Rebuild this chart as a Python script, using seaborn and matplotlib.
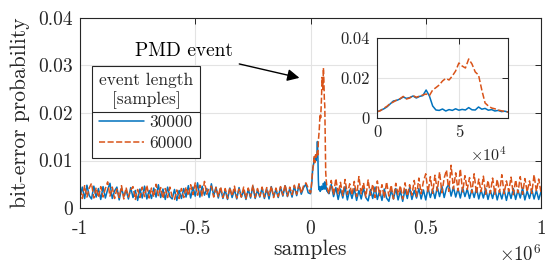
import matplotlib as mpl

mpl.use('Agg')
import numpy as np
import pandas as pd
import matplotlib.pyplot as plt
import seaborn as sns
from matplotlib.lines import Line2D

# sample positions (grid) of the three stretches
x_left = np.arange(-1_000_000, 0, 10_000)
x_event = np.arange(0, 80_001, 2_000)
x_right = np.arange(90_000, 1_000_001, 10_000)

# bit-error probability, in units of 1e-3
ber30k_left = [2.2, 4.4, 2.0, 4.8, 2.6, 1.9, 4.6, 2.3, 4.1, 1.8,
               4.5, 2.1, 3.9, 5.2, 2.0, 3.6, 4.4, 1.7, 4.2, 2.4,
               3.8, 1.9, 4.3, 2.2, 3.7, 1.6, 4.0, 2.1, 4.6, 1.9,
               3.7, 2.0, 4.2, 2.3, 4.9, 2.2, 4.0, 1.8, 4.4, 2.4,
               1.9, 3.9, 1.6, 3.7, 2.0, 4.1, 2.3, 4.7, 2.1, 4.4,
               2.5, 5.3, 2.3, 4.6, 2.7, 4.1, 2.2, 5.1, 2.6, 4.4,
               2.1, 4.1, 2.0, 3.8, 1.8, 4.2, 2.2, 3.9, 1.9, 4.3,
               2.3, 3.7, 1.8, 4.0, 2.1, 4.6, 2.0, 3.8, 2.3, 4.2,
               2.0, 4.0, 1.9, 4.5, 2.4, 3.9, 2.2, 4.4, 2.5, 4.7,
               2.4, 4.1, 2.3, 4.6, 2.6, 4.8, 2.9, 4.3, 5.0, 3.2]
ber60k_left = [4.0, 2.0, 4.7, 2.3, 4.2, 5.2, 2.1, 4.3, 2.2, 4.5,
               2.3, 4.1, 5.5, 2.5, 4.4, 2.0, 4.0, 2.2, 4.7, 1.9,
               4.3, 2.3, 3.8, 4.5, 1.8, 3.9, 2.2, 4.4, 2.4, 4.8,
               2.1, 4.2, 2.3, 5.0, 2.6, 4.3, 2.0, 4.1, 2.2, 4.4,
               2.3, 1.8, 3.8, 2.0, 4.1, 2.2, 4.4, 2.6, 4.9, 2.8,
               5.3, 2.7, 4.8, 2.4, 5.6, 2.9, 4.2, 4.6, 2.3, 4.3,
               2.4, 4.5, 2.2, 4.1, 2.0, 4.3, 2.5, 4.6, 2.1, 4.0,
               2.3, 4.4, 2.0, 4.2, 2.4, 4.8, 2.2, 4.1, 2.5, 4.4,
               2.3, 4.3, 2.6, 4.6, 2.2, 4.2, 2.4, 4.5, 2.7, 4.9,
               2.5, 4.4, 2.8, 4.8, 2.9, 5.1, 3.1, 4.7, 5.3, 4.2]

ber30k_event = [3.0, 3.8, 4.5, 5.5, 7.0, 8.5, 8.8, 9.5, 10.5, 9.8,
                10.2, 11.0, 10.0, 10.8, 11.2, 14.0, 11.0, 6.0, 4.0, 3.8,
                4.5, 3.5, 4.2, 3.8, 4.6, 3.9, 4.3, 4.0, 5.2, 4.1,
                4.0, 5.5, 4.4, 4.8, 3.9, 4.2, 3.5, 3.8, 3.2, 3.4,
                3.0]
ber60k_event = [3.2, 3.6, 4.8, 5.8, 7.2, 8.0, 9.0, 9.6, 10.8, 9.5,
                10.0, 11.2, 10.4, 10.9, 11.5, 12.0, 11.2, 14.0, 15.2, 16.5,
                18.5, 19.8, 19.0, 21.0, 23.5, 27.5, 26.0, 25.0, 29.5, 27.0,
                23.0, 21.5, 14.0, 7.5, 6.0, 5.0, 4.6, 4.0, 3.6, 3.3,
                3.0]

ber30k_right = [5.0, 2.4, 4.3, 1.8, 4.0, 2.1, 4.5, 1.7, 3.8, 2.0,
                4.1, 1.6, 3.7, 1.9, 4.2, 2.2, 1.5, 3.9, 2.0, 4.4,
                1.8, 3.7, 1.6, 4.0, 2.1, 1.4, 3.8, 1.9, 4.1, 1.7,
                3.6, 1.4, 3.9, 2.0, 4.3, 1.8, 3.7, 2.1, 4.1, 1.9,
                3.8, 1.7, 4.2, 2.2, 3.9, 2.0, 4.4, 2.4, 4.6, 2.2,
                4.2, 5.0, 2.5, 4.4, 2.3, 4.1, 2.1, 4.3, 2.4, 4.0,
                2.0, 3.9, 2.2, 4.2, 1.9, 3.8, 2.1, 4.1, 1.8, 3.7,
                2.0, 4.0, 1.7, 3.6, 1.9, 3.9, 1.6, 3.7, 2.0, 4.1,
                1.8, 3.8, 2.1, 4.2, 1.7, 3.6, 2.0, 3.9, 1.9, 3.7,
                1.8, 3.4]
ber60k_right = [5.8, 2.8, 6.2, 3.0, 5.4, 2.6, 6.0, 2.9, 5.1, 2.7,
                5.6, 2.4, 6.6, 3.0, 5.3, 2.3, 5.9, 2.7, 5.0, 2.2,
                5.7, 2.6, 4.9, 2.1, 5.5, 2.5, 4.8, 1.9, 5.2, 2.8,
                4.7, 1.9, 5.3, 2.5, 4.9, 2.7, 5.8, 2.4, 6.3, 3.0,
                5.6, 7.2, 3.3, 6.6, 3.1, 6.9, 3.6, 7.6, 3.2, 6.3,
                8.0, 3.5, 9.0, 4.0, 7.4, 3.6, 8.2, 3.4, 6.8, 3.9,
                6.4, 3.2, 7.2, 3.0, 6.1, 3.4, 6.7, 2.9, 5.8, 3.1,
                6.3, 2.9, 6.0, 3.3, 7.0, 3.0, 5.7, 3.5, 6.5, 2.8,
                5.9, 3.2, 6.6, 2.9, 6.2, 3.4, 5.7, 3.1, 7.0, 3.5,
                6.1, 3.3]

lengths = ['30000', '60000']
colors = {'30000': '#0072BD', '60000': '#D95319'}
dashes = {'30000': '', '60000': (4, 1.6)}

x_all = np.concatenate([x_left, x_event, x_right])
df = pd.concat([
    pd.DataFrame({'samples': x_all,
                  'ber': np.array(ber30k_left + ber30k_event + ber30k_right) * 1e-3,
                  'length': '30000'}),
    pd.DataFrame({'samples': x_all,
                  'ber': np.array(ber60k_left + ber60k_event + ber60k_right) * 1e-3,
                  'length': '60000'}),
])
df_ins = pd.concat([
    pd.DataFrame({'samples': x_event, 'ber': np.array(ber30k_event) * 1e-3, 'length': '30000'}),
    pd.DataFrame({'samples': x_event, 'ber': np.array(ber60k_event) * 1e-3, 'length': '60000'}),
])

sns.set_style('white')
plt.rcParams['font.family'] = ['cmr10', 'DejaVu Serif']
plt.rcParams['mathtext.fontset'] = 'cm'
plt.rcParams['axes.unicode_minus'] = False

dark = '#262626'
grid = '#e3e3e3'


def style_axes(ax, fs, xpad):
    for s in ax.spines.values():
        s.set_color(dark)
        s.set_linewidth(0.8)
    ax.tick_params(direction='in', top=True, right=True, length=4,
                   width=0.7, color=dark, labelsize=fs, pad=5, labelcolor=dark)
    ax.tick_params(axis='x', pad=xpad)
    ax.grid(True, color=grid, linewidth=0.8)
    ax.set_axisbelow(True)


fig = plt.figure(figsize=(5.45, 2.64), dpi=100)
ax = fig.add_axes([80 / 545, 56 / 264, 461 / 545, 190 / 264])

sns.lineplot(data=df, x='samples', y='ber', hue='length', style='length',
             hue_order=lengths, style_order=lengths, palette=colors,
             dashes=dashes, estimator=None, sort=False, linewidth=1.1,
             legend=False, ax=ax)
ax.set_xlim(-1e6, 1e6)
ax.set_ylim(0, 0.04)
ax.set_xticks([-1e6, -0.5e6, 0, 0.5e6, 1e6])
ax.set_xticklabels(['-1', '-0.5', '0', '0.5', '1'])
ax.set_yticks([0, 0.01, 0.02, 0.03, 0.04])
ax.set_yticklabels(['0', '0.01', '0.02', '0.03', '0.04'])
style_axes(ax, 14, 9)
ax.set_xlabel('samples', fontsize=15.5, color=dark, labelpad=1)
ax.set_ylabel('bit-error probability', fontsize=15.5, color=dark, labelpad=6)
ax.text(1.0, -0.19, r'$\times10^{6}$', transform=ax.transAxes,
        ha='right', va='top', fontsize=13.5, color=dark)

ax.annotate('PMD event', xy=(-4.8e4, 0.0274), xytext=(-0.335e6, 0.0330),
            ha='right', va='center', fontsize=14, color='black',
            arrowprops=dict(arrowstyle='-|>', color='black', lw=1.0,
                            mutation_scale=18, shrinkA=2, shrinkB=0))

handles = [Line2D([], [], color=colors[k], linewidth=1.1,
                  linestyle='-' if k == '30000' else (0, (4, 1.6))) for k in lengths]
leg = ax.legend(handles, lengths, title='event length\n[samples]',
                loc='upper left', bbox_to_anchor=(0.026, 0.747), borderaxespad=0,
                fontsize=12.5, title_fontsize=12.5, handlelength=2.6,
                handletextpad=0.3, labelspacing=0.35, borderpad=0.4,
                fancybox=False, framealpha=1, edgecolor=dark)
leg.get_frame().set_linewidth(0.8)
leg.get_title().set_multialignment('center')

# inset
axi = fig.add_axes([377 / 545, 146 / 264, 131 / 545, 80 / 264])
sns.lineplot(data=df_ins, x='samples', y='ber', hue='length', style='length',
             hue_order=lengths, style_order=lengths, palette=colors,
             dashes=dashes, estimator=None, sort=False, linewidth=1.1,
             legend=False, ax=axi)
axi.set_xlim(0, 8e4)
axi.set_ylim(0, 0.04)
axi.set_xticks([0, 5e4])
axi.set_xticklabels(['0', '5'])
axi.set_yticks([0, 0.02, 0.04])
axi.set_yticklabels(['0', '0.02', '0.04'])
axi.set_xlabel('')
axi.set_ylabel('')
style_axes(axi, 12, 5)
axi.text(0.985, -0.34, r'$\times10^{4}$', transform=axi.transAxes,
         ha='right', va='top', fontsize=11.5, color=dark)

# separator line under the legend title
fig.canvas.draw()
lb = leg.get_window_extent()
tb = leg.get_title().get_window_extent()
inv = fig.transFigure.inverted()
(x0, y0), (x1, _) = inv.transform([(lb.x0, tb.y0 - 3), (lb.x1, tb.y0 - 3)])
fig.add_artist(Line2D([x0, x1], [y0, y0], transform=fig.transFigure,
                      color=dark, linewidth=0.8))

fig.savefig('out.png', dpi=100)
